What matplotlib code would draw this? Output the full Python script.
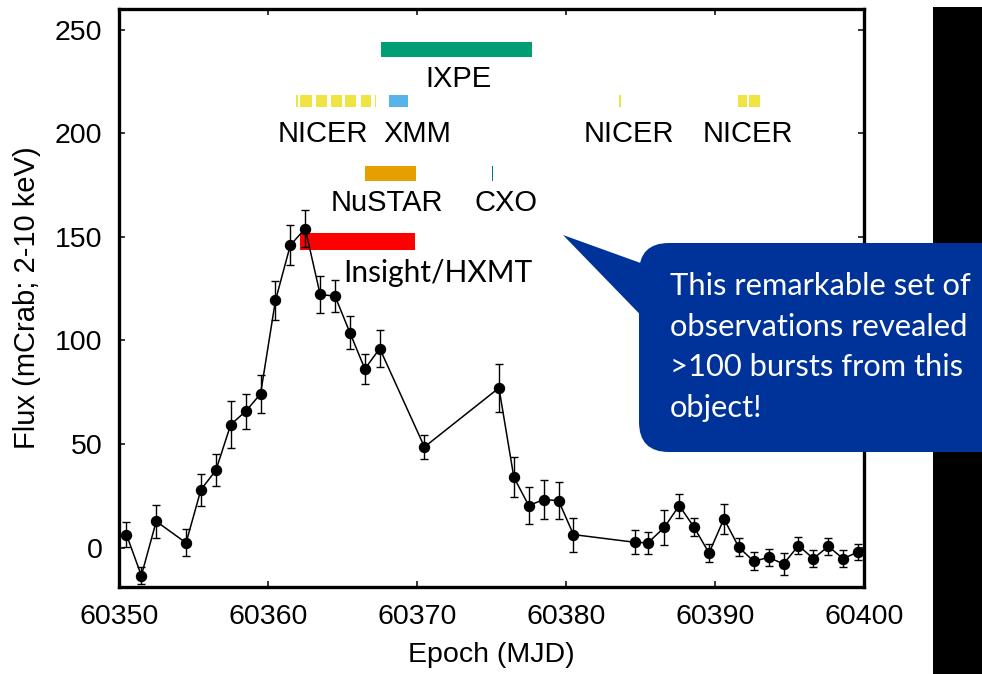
import matplotlib
matplotlib.use("Agg")
import matplotlib.pyplot as plt
from matplotlib.patches import FancyBboxPatch, Polygon, Rectangle

plt.rcParams["font.family"] = ["Liberation Sans", "DejaVu Sans"]

# Light curve (MJD, flux in mCrab, 1-sigma error)
mjd = [60350.5, 60351.5, 60352.5, 60354.5, 60355.5, 60356.5, 60357.5, 60358.5,
       60359.5, 60360.5, 60361.5, 60362.5, 60363.5, 60364.5, 60365.5, 60366.5,
       60367.5, 60370.5, 60375.5, 60376.5, 60377.5, 60378.5, 60379.5, 60380.5,
       60384.6, 60385.5, 60386.6, 60387.6, 60388.6, 60389.6, 60390.6, 60391.6,
       60392.6, 60393.6, 60394.6, 60395.6, 60396.6, 60397.6, 60398.6, 60399.6]
flux = [6.3, -13.5, 12.7, 2.3, 28.0, 37.3, 59.4, 65.8,
        74.2, 119.3, 146.0, 154.0, 122.2, 121.4, 103.7, 86.3,
        96.1, 48.6, 77.1, 34.0, 20.3, 23.2, 22.7, 6.3,
        2.6, 2.3, 9.8, 20.3, 9.8, -2.6, 13.9, 0.2,
        -6.6, -4.7, -7.9, 1.0, -5.3, 0.6, -5.3, -2.1]
flux_err = [6.0, 4.0, 8.0, 6.5, 7.7, 7.7, 11.3, 8.4,
            9.3, 9.3, 9.7, 8.9, 8.9, 7.7, 8.0, 7.2,
            8.9, 6.0, 11.7, 9.7, 9.0, 9.4, 9.0, 8.2,
            5.8, 5.4, 8.6, 5.8, 4.4, 4.2, 7.4, 4.4,
            4.3, 4.0, 5.4, 4.1, 4.2, 4.0, 4.0, 3.8]

# Observation windows (start, stop) in MJD
ixpe_obs = [(60367.6, 60377.7)]
nicer_obs = [(60361.89, 60362.0), (60362.15, 60362.94), (60363.23, 60363.95),
             (60364.22, 60364.96), (60365.2, 60365.93), (60366.24, 60366.94),
             (60367.19, 60367.23), (60383.59, 60383.70),
             (60391.52, 60392.15), (60392.25, 60393.04)]
xmm_obs = [(60368.15, 60369.41)]
nustar_obs = [(60366.5, 60369.9)]
cxo_obs = [(60375.03, 60375.13)]
hxmt_obs = [(60362.17, 60369.85)]

callout_lines = ["This remarkable set of", "observations revealed",
                 ">100 bursts from this", "object!"]

fig = plt.figure(figsize=(9.82, 6.74), dpi=100)
ax = fig.add_axes([119 / 982, 1 - 587 / 674, (864 - 119) / 982, (587 - 9) / 674])


def bars(spans, yc, h, color):
    ax.broken_barh([(a, b - a) for a, b in spans], (yc - h / 2, h),
                   facecolors=color, edgecolors="none", zorder=2)


bars(ixpe_obs, 240.5, 7.2, "#009E73")
bars(nicer_obs, 215.8, 5.8, "#F0E442")
bars(xmm_obs, 215.8, 5.8, "#56B4E9")
bars(nustar_obs, 180.7, 7.2, "#E69F00")
bars(cxo_obs, 180.7, 7.2, "#0072B2")
bars(hxmt_obs, 147.8, 8.2, "#FF0000")

lab = dict(fontsize=21, ha="center", va="center", color="black", zorder=4)
ax.text(60372.76, 226.1, "IXPE", **lab)
ax.text(60363.7, 199.8, "NICER", **lab)
ax.text(60370.0, 199.8, "XMM", **lab)
ax.text(60384.24, 199.8, "NICER", **lab)
ax.text(60392.2, 199.8, "NICER", **lab)
ax.text(60367.95, 166.2, "NuSTAR", **lab)
ax.text(60376.0, 166.2, "CXO", **lab)
ax.text(60371.4, 132.8, "Insight/HXMT", fontsize=21.5, ha="center", va="center",
        family=["Lato", "DejaVu Sans"], color="black", zorder=4)

ax.errorbar(mjd, flux, yerr=flux_err, fmt="o-", color="black", ms=7.2,
            lw=1.1, elinewidth=1.0, capsize=2.6, capthick=1.0, zorder=3)

ax.set_xlim(60350, 60400)
ax.set_ylim(-19, 260)
ax.set_xticks(range(60350, 60401, 10))
ax.set_yticks(range(0, 251, 50))
ax.tick_params(direction="in", length=4.5, width=1.1, top=True, right=True,
               labelsize=20.5, pad=12)
for s in ax.spines.values():
    s.set_linewidth(2.4)

ax.set_xlabel("Epoch (MJD)", fontsize=20.5)
ax.xaxis.set_label_coords(0.5, (587 - 655) / 578)
ax.xaxis.label.set_verticalalignment("center")
ax.set_ylabel("Flux (mCrab; 2-10 keV)", fontsize=21)
ax.yaxis.set_label_coords((27 - 119) / 745, 0.5)
ax.yaxis.label.set_verticalalignment("center")

# Overlay in pixel coordinates for the slide decorations
ov = fig.add_axes([0, 0, 1, 1], zorder=5)
ov.set_xlim(0, 982)
ov.set_ylim(674, 0)
ov.axis("off")
ov.patch.set_alpha(0)

ov.add_patch(Rectangle((933, 7), 60, 680, facecolor="black", edgecolor="none"))
blue = "#003399"
ov.add_patch(Polygon([(563, 235), (660, 270), (660, 335)], closed=True,
                     facecolor=blue, edgecolor="none"))
ov.add_patch(FancyBboxPatch((639, 243), 420, 209,
                            boxstyle="round,pad=0,rounding_size=30",
                            facecolor=blue, edgecolor="none"))
for i, line in enumerate(callout_lines):
    ov.text(670, 295 + i * 40.6, line, color="white", fontsize=22.2,
            family=["Lato", "DejaVu Sans"], ha="left", va="baseline")

fig.savefig("out.png", dpi=100)
